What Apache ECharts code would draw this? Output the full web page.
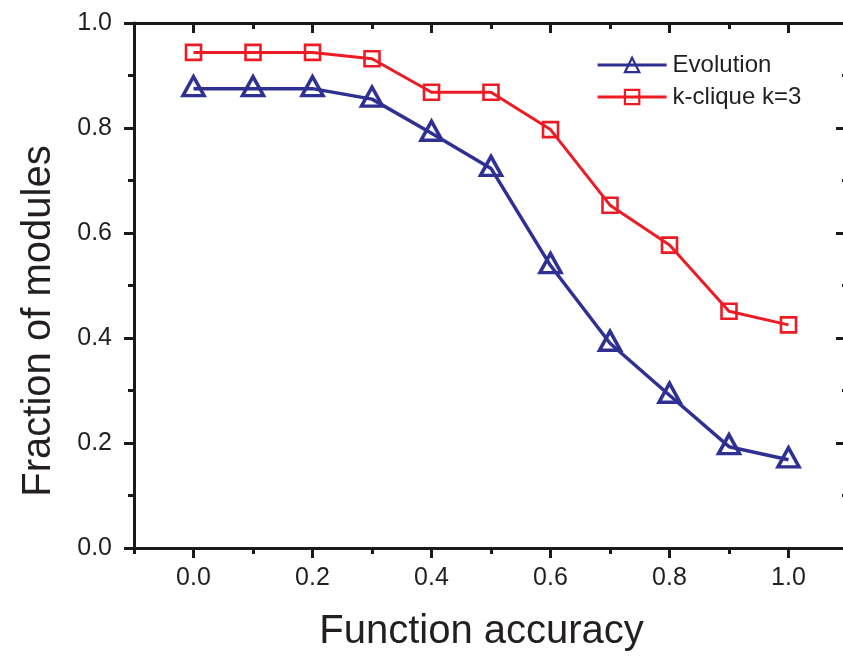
<!DOCTYPE html>
<html>
<head>
<meta charset="utf-8">
<script src="https://cdn.jsdelivr.net/npm/echarts@6/dist/echarts.min.js"></script>
<style>
html,body{margin:0;padding:0;background:#fff;}
#chart{width:843px;height:660px;}
</style>
</head>
<body>
<div id="chart"></div>
<script>
const accuracy = [0.0, 0.1, 0.2, 0.3, 0.4, 0.5, 0.6, 0.7, 0.8, 0.9, 1.0];
const evolution = [0.875, 0.875, 0.875, 0.855, 0.790, 0.723, 0.538, 0.390, 0.291, 0.193, 0.168];
const kclique = [0.944, 0.944, 0.944, 0.932, 0.868, 0.868, 0.797, 0.653, 0.577, 0.451, 0.425];
const seriesNames = ['Evolution', 'k-clique k=3'];
const xTitle = 'Function accuracy';
const yTitle = 'Fraction of modules';

const FONT = "'Liberation Sans', Arial, Helvetica, sans-serif";
const TXT = '#231f20';
const AX = '#1a1a1a';
const BLUE = '#2e3192';
const RED = '#ed1c24';

const chart = echarts.init(document.getElementById('chart'), null, {renderer: 'canvas'});

function xLabel(v) {
  const k = Math.round(v * 10);
  return (k >= 0 && k <= 10 && k % 2 === 0) ? (k / 10).toFixed(1) : '';
}

const option = {
  animation: false,
  backgroundColor: '#fff',
  grid: [
    {left: 134, top: 23, width: 714, height: 525, containLabel: false, outerBoundsMode: 'none'},
    {left: 193.5, top: 23, width: 595, height: 525, containLabel: false, outerBoundsMode: 'none'}
  ],
  legend: {
    left: 596, top: 53, padding: 0,
    orient: 'vertical', itemGap: 8,
    itemWidth: 69, itemHeight: 18,
    selectedMode: false,
    itemStyle: {borderWidth: 2.2},
    lineStyle: {width: 3.2},
    textStyle: {fontFamily: FONT, fontSize: 24, color: TXT, padding: [0, 0, 0, 1]},
    data: seriesNames
  },
  xAxis: [
    {
      gridIndex: 0, type: 'value', position: 'bottom',
      min: -0.1, max: 1.1, interval: 0.1,
      axisLine: {show: true, onZero: false, lineStyle: {color: AX, width: 3}},
      axisTick: {show: true, inside: false, length: 6, lineStyle: {color: AX, width: 3}},
      splitLine: {show: false},
      axisLabel: {show: true, formatter: xLabel, fontFamily: FONT, fontSize: 25, color: TXT, margin: 18, showMinLabel: true, showMaxLabel: true},
      name: xTitle, nameLocation: 'middle', nameGap: 64,
      nameTextStyle: {fontFamily: FONT, fontSize: 40, color: TXT, padding: [0, 19, 0, 0]}
    },
    {
      gridIndex: 0, type: 'value', position: 'top',
      min: -0.1, max: 1.1, interval: 0.1,
      axisLine: {show: true, onZero: false, lineStyle: {color: AX, width: 3}},
      axisTick: {show: true, inside: true, length: 6, lineStyle: {color: AX, width: 3}},
      splitLine: {show: false},
      axisLabel: {show: false}
    },
    {
      gridIndex: 1, type: 'value', position: 'bottom',
      min: 0, max: 1, interval: 0.2,
      axisLine: {show: false, onZero: false},
      axisTick: {show: true, inside: false, length: 10, lineStyle: {color: AX, width: 3}},
      splitLine: {show: false},
      axisLabel: {show: false}
    },
    {
      gridIndex: 1, type: 'value', position: 'top',
      min: 0, max: 1, interval: 0.2,
      axisLine: {show: false, onZero: false},
      axisTick: {show: true, inside: true, length: 10, lineStyle: {color: AX, width: 3}},
      splitLine: {show: false},
      axisLabel: {show: false}
    }
  ],
  yAxis: [
    {
      gridIndex: 0, type: 'value', position: 'left',
      min: 0, max: 1, interval: 0.2,
      axisLine: {show: true, onZero: false, lineStyle: {color: AX, width: 3}},
      axisTick: {show: true, inside: false, length: 10, lineStyle: {color: AX, width: 3}},
      minorTick: {show: true, splitNumber: 2, length: 6, lineStyle: {color: AX, width: 3}},
      splitLine: {show: false},
      minorSplitLine: {show: false},
      axisLabel: {show: true, formatter: v => v.toFixed(1), fontFamily: FONT, fontSize: 25, color: TXT, margin: 22},
      name: yTitle, nameLocation: 'middle', nameGap: 75, nameRotate: 90,
      nameTextStyle: {fontFamily: FONT, fontSize: 40, color: TXT, padding: [0, 71, 0, 0]}
    },
    {
      gridIndex: 0, type: 'value', position: 'right',
      min: 0, max: 1, interval: 0.2,
      axisLine: {show: true, onZero: false, lineStyle: {color: AX, width: 3}},
      axisTick: {show: true, inside: true, length: 12, lineStyle: {color: AX, width: 3}},
      minorTick: {show: true, splitNumber: 2, length: 6, lineStyle: {color: AX, width: 3}},
      splitLine: {show: false},
      minorSplitLine: {show: false},
      axisLabel: {show: false}
    },
    {
      gridIndex: 1, type: 'value', show: false, min: 0, max: 1
    }
  ],
  series: [
    {
      name: seriesNames[0], type: 'line', xAxisIndex: 0, yAxisIndex: 0,
      data: accuracy.map((x, i) => [x, evolution[i]]),
      symbol: 'triangle', symbolSize: [21, 19], symbolOffset: [0, -2.5],
      showAllSymbol: true, clip: false,
      lineStyle: {color: BLUE, width: 3.5},
      itemStyle: {color: 'rgba(255,255,255,0)', borderColor: BLUE, borderWidth: 3.5},
      z: 3
    },
    {
      name: seriesNames[1], type: 'line', xAxisIndex: 0, yAxisIndex: 0,
      data: accuracy.map((x, i) => [x, kclique[i]]),
      symbol: 'rect', symbolSize: 15,
      showAllSymbol: true, clip: false,
      lineStyle: {color: RED, width: 3},
      itemStyle: {color: 'rgba(255,255,255,0)', borderColor: RED, borderWidth: 2.6},
      z: 2
    }
  ]
};
chart.setOption(option);
</script>
</body>
</html>
